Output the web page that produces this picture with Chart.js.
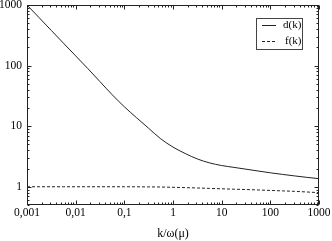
<!DOCTYPE html>
<html>
<head>
<meta charset="utf-8">
<script src="https://cdn.jsdelivr.net/npm/chart.js@4/dist/chart.umd.min.js"></script>
<style>
html,body{margin:0;padding:0;background:#fff;}
canvas{display:block;}
</style>
</head>
<body>
<canvas id="c" width="332" height="241"></canvas>
<script>
// ---- data ----
const kValues = [0.001, 0.00178, 0.00316, 0.00562, 0.01, 0.0178, 0.0316, 0.0562, 0.1, 0.178, 0.316, 0.562,
                 1, 1.78, 3.16, 5.62, 10, 17.8, 31.6, 56.2, 100, 178, 316, 562, 1000];
const dValues = [1000, 617, 380, 234, 144.5, 89.1, 54.3, 33.1, 20.9, 13.8, 9.23, 6.17,
                 4.52, 3.54, 2.88, 2.48, 2.24, 2.09, 1.95, 1.82, 1.70, 1.60, 1.51, 1.43, 1.36];
const fValues = [1.0, 1.0, 1.0, 1.0, 1.0, 1.0, 1.0, 1.0, 1.0, 0.998, 0.995, 0.99,
                 0.98, 0.968, 0.955, 0.94, 0.925, 0.912, 0.90, 0.885, 0.87, 0.855, 0.84, 0.82, 0.80];
const seriesLabels = ['d(k)', 'f(k)'];
const xTickValues = [0.001, 0.01, 0.1, 1, 10, 100, 1000];
const yTickValues = [1, 10, 100, 1000];
const xTitle = 'k/\u03c9(\u03bc)';

const FONT = 'Liberation Serif';
const INK = '#222';

function minorTicks(min, max) {
  const out = [];
  let p = Math.floor(Math.log10(min));
  for (; Math.pow(10, p) <= max; p++) {
    for (let m = 1; m <= 9; m++) {
      const v = m * Math.pow(10, p);
      if (v >= min * 0.9999 && v <= max * 1.0001) out.push({ v, major: m === 1 });
    }
  }
  return out;
}

const framePlugin = {
  id: 'frame',
  afterDatasetsDraw(chart) {
    const ctx = chart.ctx;
    const a = chart.chartArea;
    const xs = chart.scales.x, ys = chart.scales.y;
    ctx.save();
    ctx.strokeStyle = INK;
    ctx.lineWidth = 1;
    const L = Math.round(a.left) + 0.5, R = Math.round(a.right) - 0.5;
    const T = Math.round(a.top) + 0.5, B = Math.round(a.bottom) - 0.5;
    ctx.strokeRect(L, T, R - L, B - T);
    ctx.beginPath();
    for (const t of minorTicks(xs.min, xs.max)) {
      const px = Math.round(xs.getPixelForValue(t.v)) + 0.5;
      const len = t.major ? 4 : 2;
      ctx.moveTo(px, B); ctx.lineTo(px, B - len);
      ctx.moveTo(px, T); ctx.lineTo(px, T + len);
    }
    for (const t of minorTicks(ys.min, ys.max)) {
      const py = Math.round(ys.getPixelForValue(t.v)) + 0.5;
      const len = t.major ? 4 : 2;
      ctx.moveTo(L, py); ctx.lineTo(L + len, py);
      ctx.moveTo(R, py); ctx.lineTo(R - len, py);
    }
    ctx.stroke();

    // legend inside plot
    const bx = 256.5, by = 18.5, bw = 46, bh = 31;
    ctx.fillStyle = '#fff';
    ctx.fillRect(bx, by, bw, bh);
    ctx.strokeStyle = '#444';
    ctx.strokeRect(bx, by, bw, bh);
    ctx.font = '11px "' + FONT + '"';
    ctx.textBaseline = 'middle';
    ctx.textAlign = 'left';
    chart.data.datasets.forEach((ds, i) => {
      const y = (i === 0 ? 25.5 : 41.5);
      ctx.strokeStyle = ds.borderColor;
      ctx.lineWidth = ds.borderWidth;
      ctx.setLineDash(ds.borderDash || []);
      ctx.beginPath();
      ctx.moveTo(262, y); ctx.lineTo(276, y);
      ctx.stroke();
      ctx.setLineDash([]);
      ctx.fillStyle = '#000';
      ctx.fillText(ds.label, i === 0 ? 283 : 285, y);
    });
    ctx.restore();
  }
};

const tickFont = { family: FONT, size: 11.5 };

new Chart(document.getElementById('c'), {
  type: 'line',
  data: {
    datasets: [
      {
        label: seriesLabels[0],
        data: kValues.map((k, i) => ({ x: k, y: dValues[i] })),
        borderColor: INK, borderWidth: 1, pointRadius: 0, fill: false,
        cubicInterpolationMode: 'monotone'
      },
      {
        label: seriesLabels[1],
        data: kValues.map((k, i) => ({ x: k, y: fValues[i] })),
        borderColor: INK, borderWidth: 1, borderDash: [3, 2], pointRadius: 0, fill: false,
        cubicInterpolationMode: 'monotone'
      }
    ]
  },
  options: {
    responsive: false,
    devicePixelRatio: 1,
    animation: false,
    layout: { padding: { left: 0, right: 13, top: 5, bottom: 0 } },
    plugins: { legend: { display: false }, tooltip: { enabled: false } },
    scales: {
      x: {
        type: 'logarithmic', position: 'bottom', min: 0.001, max: 1000,
        afterBuildTicks: s => { s.ticks = xTickValues.map(v => ({ value: v, major: true })); },
        afterFit: s => { s.height = 36; s.paddingLeft = 0; s.paddingRight = 0; },
        grid: { display: false, drawTicks: false },
        border: { display: false },
        ticks: {
          font: tickFont, color: '#000', padding: 1, maxRotation: 0, autoSkip: false,
          callback: v => String(v).replace('.', ',')
        },
        title: { display: true, text: xTitle, font: { family: FONT, size: 12 }, color: '#000', padding: { top: 0, bottom: 0 } }
      },
      y: {
        type: 'logarithmic', position: 'left', min: 0.5, max: 1000,
        afterBuildTicks: s => { s.ticks = yTickValues.map(v => ({ value: v, major: true })); },
        afterFit: s => { s.width = 27; s.paddingTop = 0; s.paddingBottom = 0; },
        grid: { display: false, drawTicks: false },
        border: { display: false },
        ticks: {
          font: tickFont, color: '#000', padding: 5, autoSkip: false,
          callback: v => String(v)
        }
      }
    }
  },
  plugins: [framePlugin]
});
</script>
</body>
</html>
